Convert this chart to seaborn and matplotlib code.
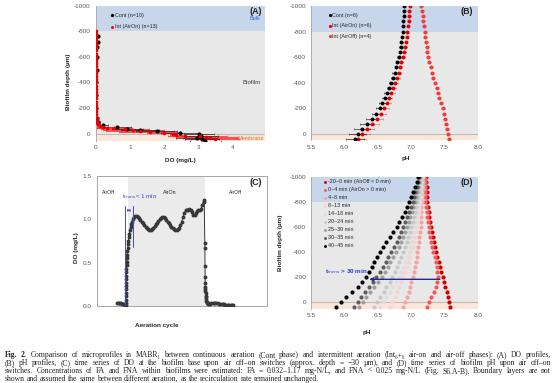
import numpy as np
import pandas as pd
import matplotlib
matplotlib.use('Agg')
import matplotlib.pyplot as plt
import seaborn as sns

# ---- data ----
# (A) DO profiles
a_cont_depth = [-760, -720, -680, -600, -500, -400, -300, -200, -120, -90, -65, -52, -39, -26, -18, -8, 5, 20, 34, 44, 55]
a_cont_do = [0.07, 0.07, 0.04, 0.03, 0.03, 0.02, 0.02, 0.02, 0.03, 0.08, 0.22, 0.63, 0.92, 1.30, 1.78, 2.46, 3.02, 3.08, 2.95, 3.12, 3.20]
a_cont_err = [0.01, 0.01, 0.01, 0.01, 0.01, 0.01, 0.01, 0.01, 0.02, 0.05, 0.15, 0.40, 0.45, 0.55, 0.60, 0.55, 0.45, 0.50, 0.60, 0.50, 0.45]

a_int_depth = [-800, -775, -750, -725, -700, -675, -650, -625, -600, -575, -550, -525, -500, -475, -450,
               -425, -400, -375, -350, -325, -300, -275, -250, -225, -200, -175, -150, -125, -100,
               -85, -72, -62, -55, -47, -40, -33, -26, -20, -13, -7, 0, 8, 15, 22, 30, 38, 45]
a_int_do = [0.02, 0.02, 0.02, 0.02, 0.02, 0.02, 0.02, 0.02, 0.02, 0.02, 0.02, 0.02, 0.02, 0.02, 0.02,
            0.02, 0.02, 0.02, 0.02, 0.02, 0.02, 0.02, 0.02, 0.02, 0.02, 0.02, 0.02, 0.03, 0.03,
            0.04, 0.08, 0.12, 0.20, 0.32, 0.55, 0.86, 1.10, 1.29, 1.58, 2.00, 2.27, 2.36, 2.60, 3.05, 3.24, 3.35, 3.48]
a_int_err = [0.01, 0.01, 0.01, 0.01, 0.01, 0.01, 0.01, 0.01, 0.01, 0.01, 0.01, 0.01, 0.01, 0.01, 0.01,
             0.01, 0.01, 0.01, 0.01, 0.01, 0.01, 0.01, 0.01, 0.01, 0.01, 0.01, 0.01, 0.02, 0.02,
             0.03, 0.05, 0.08, 0.15, 0.30, 0.50, 0.70, 0.90, 1.00, 0.90, 0.50, 0.10, 0.20, 0.50, 0.80, 0.90, 0.80, 0.70]

# (B) and (D) pH profiles share the depth grid
prof_depth = [-1000, -960, -920, -880, -840, -800, -760, -720, -680, -640, -600, -560, -520, -480,
              -440, -400, -360, -320, -280, -240, -200, -160, -120, -80, -40, 0, 40]

b_cont_ph = [6.89, 6.89, 6.89, 6.88, 6.88, 6.87, 6.86, 6.85, 6.84, 6.83, 6.81, 6.79, 6.77, 6.75,
             6.73, 6.70, 6.67, 6.64, 6.61, 6.57, 6.53, 6.48, 6.41, 6.34, 6.27, 6.20, 6.16]
b_cont_err = [0.01, 0.01, 0.01, 0.01, 0.01, 0.01, 0.01, 0.02, 0.02, 0.02, 0.02, 0.02, 0.02, 0.03,
              0.03, 0.03, 0.03, 0.04, 0.04, 0.05, 0.06, 0.07, 0.08, 0.10, 0.12, 0.13, 0.13]
b_on_ph = [6.98, 6.97, 6.97, 6.96, 6.95, 6.94, 6.93, 6.92, 6.91, 6.89, 6.87, 6.85, 6.83, 6.81,
           6.79, 6.76, 6.73, 6.70, 6.67, 6.64, 6.60, 6.55, 6.49, 6.42, 6.34, 6.26, 6.20]
b_on_err = [0.02, 0.02, 0.02, 0.02, 0.02, 0.02, 0.02, 0.02, 0.03, 0.03, 0.03, 0.03, 0.03, 0.04,
            0.04, 0.04, 0.04, 0.05, 0.05, 0.06, 0.07, 0.08, 0.09, 0.10, 0.11, 0.12, 0.12]
b_off_ph = [7.15, 7.16, 7.17, 7.18, 7.19, 7.20, 7.21, 7.22, 7.23, 7.24, 7.25, 7.27, 7.29, 7.31,
            7.33, 7.36, 7.38, 7.40, 7.42, 7.45, 7.47, 7.49, 7.51, 7.52, 7.54, 7.55, 7.56]
b_off_err = [0.03, 0.03, 0.03, 0.03, 0.03, 0.03, 0.03, 0.03, 0.03, 0.03, 0.03, 0.03, 0.03, 0.03,
             0.03, 0.03, 0.03, 0.03, 0.03, 0.03, 0.03, 0.03, 0.03, 0.03, 0.03, 0.03, 0.03]
b_labels = ['Cont (n=6)', 'Int (AirOn) (n=6)', 'Int (AirOff) (n=4)']

# (C) DO at biofilm base, time in minutes
c_time = [1.55, 1.62, 1.70, 1.78, 1.86, 1.94, 2.02, 2.10, 2.18, 2.24,
          2.26, 2.26, 2.27, 2.27, 2.28, 2.28, 2.29, 2.29, 2.30, 2.30, 2.31, 2.32, 2.33, 2.34, 2.36,
          2.38, 2.40, 2.43, 2.46, 2.50, 2.54, 2.58, 2.63, 2.68, 2.74, 2.80,
          2.9, 3.0, 3.1, 3.2, 3.3, 3.4, 3.5, 3.6, 3.7, 3.8, 3.9, 4.0, 4.1, 4.2, 4.3, 4.4, 4.5, 4.6,
          4.7, 4.8, 4.9, 5.0, 5.1, 5.2, 5.3, 5.4, 5.5, 5.6, 5.7, 5.8, 5.9, 6.0, 6.1, 6.2, 6.3, 6.4,
          6.5, 6.6, 6.7, 6.8, 6.9, 7.0, 7.1, 7.2, 7.3, 7.4, 7.5, 7.6, 7.7, 7.8, 7.9, 8.0, 8.1, 8.2,
          8.3, 8.35,
          8.40, 8.40, 8.41, 8.41, 8.42, 8.42, 8.43, 8.44, 8.45, 8.46, 8.48, 8.50, 8.52, 8.55, 8.58,
          8.62, 8.66, 8.70,
          8.8, 8.9, 9.0, 9.1, 9.2, 9.3, 9.4, 9.5, 9.6, 9.7, 9.8, 9.9, 10.0, 10.1, 10.2, 10.3, 10.4,
          10.5, 10.6]
c_do = [0.04, 0.04, 0.035, 0.03, 0.03, 0.025, 0.02, 0.02, 0.015, 0.01,
        0.03, 0.07, 0.11, 0.15, 0.19, 0.23, 0.27, 0.31, 0.35, 0.39, 0.43, 0.47, 0.51, 0.55, 0.59,
        0.63, 0.67, 0.71, 0.75, 0.79, 0.83, 0.87, 0.91, 0.94, 0.97, 1.00,
        1.02, 1.03, 1.03, 1.02, 1.01, 0.99, 0.97, 0.95, 0.93, 0.91, 0.90, 0.89, 0.88, 0.88, 0.89,
        0.90, 0.92, 0.94, 0.96, 0.98, 1.00, 1.01, 1.02, 1.02, 1.01, 0.99, 0.97, 0.95, 0.93, 0.91,
        0.90, 0.89, 0.88, 0.88, 0.89, 0.90, 0.93, 0.97, 1.02, 1.07, 1.10, 1.10, 1.11, 1.12, 1.10,
        1.08, 1.05, 1.05, 1.07, 1.09, 1.10, 1.10, 1.12, 1.16, 1.20, 1.22,
        0.72, 0.67, 0.46, 0.33, 0.27, 0.22, 0.20, 0.17, 0.15, 0.12, 0.10, 0.08, 0.06, 0.05, 0.04,
        0.03, 0.02, 0.02,
        0.02, 0.03, 0.04, 0.04, 0.03, 0.03, 0.03, 0.02, 0.02, 0.02, 0.02, 0.02, 0.015, 0.015, 0.01,
        0.01, 0.01, 0.01, 0.01]
c_air_on, c_air_off, c_xmax = 2.40, 8.40, 13.2
c_trans_start, c_trans_end = 2.18, 2.80

# (D) pH time series
d_labels = ['-20~0 min (AirOff < 0 min)', '0~4 min (AirOn > 0 min)', '4~8 min', '8~13 min',
            '14~18 min', '20~24 min', '25~30 min', '30~35 min', '40~45 min']
d_colors = ['#d00000', '#f05a5a', '#f4a3a3', '#f9d3d3', '#dedede', '#c8c8c8', '#a0a0a0', '#5e5e5e', '#000000']
d_ph = [
    [7.22, 7.22, 7.23, 7.23, 7.24, 7.24, 7.25, 7.26, 7.27, 7.28, 7.30, 7.31, 7.32, 7.34,
     7.35, 7.37, 7.39, 7.41, 7.43, 7.45, 7.47, 7.49, 7.51, 7.53, 7.55, 7.56, 7.58],
    [7.20, 7.20, 7.20, 7.21, 7.21, 7.21, 7.22, 7.23, 7.24, 7.25, 7.26, 7.27, 7.28, 7.29,
     7.31, 7.33, 7.35, 7.37, 7.38, 7.39, 7.40, 7.39, 7.37, 7.34, 7.30, 7.26, 7.23],
    [7.17, 7.17, 7.17, 7.16, 7.16, 7.16, 7.15, 7.15, 7.14, 7.14, 7.14, 7.13, 7.12, 7.11,
     7.10, 7.09, 7.08, 7.07, 7.05, 7.04, 7.02, 7.00, 6.98, 6.96, 6.93, 6.91, 6.88],
    [7.16, 7.15, 7.15, 7.14, 7.14, 7.13, 7.12, 7.11, 7.10, 7.09, 7.08, 7.07, 7.05, 7.04,
     7.02, 7.00, 6.98, 6.96, 6.93, 6.91, 6.88, 6.85, 6.82, 6.79, 6.75, 6.72, 6.69],
    [7.15, 7.14, 7.14, 7.13, 7.12, 7.11, 7.10, 7.09, 7.07, 7.06, 7.05, 7.03, 7.01, 7.00,
     6.98, 6.96, 6.93, 6.91, 6.88, 6.85, 6.82, 6.77, 6.72, 6.68, 6.63, 6.58, 6.54],
    [7.14, 7.13, 7.12, 7.11, 7.10, 7.09, 7.07, 7.05, 7.04, 7.02, 7.00, 6.98, 6.95, 6.93,
     6.90, 6.88, 6.85, 6.82, 6.79, 6.76, 6.72, 6.68, 6.63, 6.59, 6.54, 6.49, 6.45],
    [7.13, 7.12, 7.10, 7.08, 7.07, 7.05, 7.03, 7.01, 6.98, 6.96, 6.93, 6.90, 6.87, 6.84,
     6.81, 6.77, 6.73, 6.69, 6.65, 6.61, 6.57, 6.51, 6.45, 6.39, 6.33, 6.28, 6.22],
    [7.12, 7.10, 7.08, 7.06, 7.04, 7.02, 7.00, 6.97, 6.94, 6.91, 6.88, 6.85, 6.81, 6.78,
     6.74, 6.70, 6.66, 6.62, 6.58, 6.53, 6.48, 6.43, 6.37, 6.31, 6.25, 6.20, 6.14],
    [7.10, 7.08, 7.06, 7.03, 7.00, 6.97, 6.94, 6.90, 6.86, 6.82, 6.78, 6.73, 6.68, 6.63,
     6.58, 6.53, 6.49, 6.45, 6.41, 6.37, 6.33, 6.27, 6.20, 6.12, 6.03, 5.95, 5.88],
]
d_arrow_depth, d_arrow_from, d_arrow_to = -183, 7.47, 6.33

caption = [
    "Fig. 2. Comparison of microprofiles in MABR\u2081 between continuous aeration (Cont phase) and intermittent aeration (Int\u2086\u208a\u2086 air-on and air-off phases): (A) DO profiles,",
    "(B) pH profiles, (C) time series of DO at the biofilm base upon air off\u2013on switches (approx. depth = \u221230 \u00b5m), and (D) time series of biofilm pH upon air off\u2013on",
    "switches. Concentrations of FA and FNA within biofilms were estimated: FA = 0.032\u20131.17 mg-N/L, and FNA < 0.025 mg-N/L (Fig. S6.A-B). Boundary layers are not",
    "shown and assumed the same between different aeration, as the recirculation rate remained unchanged.",
]

# ---- styling ----
sns.set_style('white')
plt.rcParams['font.family'] = ['Liberation Sans', 'DejaVu Sans']
plt.rcParams['axes.unicode_minus'] = False

BULK, BIOF, MEMB = '#c7d6eb', '#e8e8e8', '#fbe7da'
TICK = '#595959'

W, H = 554, 383
fig = plt.figure(figsize=(W / 100, H / 100), dpi=100)
axA = fig.add_axes([0.1727, 0.6311, 0.3056, 0.3540])
axB = fig.add_axes([0.5614, 0.6332, 0.3014, 0.3512])
axC = fig.add_axes([0.1745, 0.2010, 0.3069, 0.3405])
axD = fig.add_axes([0.5614, 0.1943, 0.3014, 0.3444])


def profile_frame(ax, bottom, zero_col='#bdbdbd'):
    ax.axhspan(-1000, -800, color=BULK, lw=0, zorder=0)
    ax.axhspan(-800, 0, color=BIOF, lw=0, zorder=0)
    ax.axhspan(0, bottom, color=MEMB, lw=0, zorder=0)
    ax.axhline(0, color=zero_col, lw=0.8, zorder=1)
    ax.set_ylim(bottom, -1000)
    ax.set_yticks(range(-1000, 1, 200))
    for s in ['top', 'right', 'bottom']:
        ax.spines[s].set_visible(False)
    ax.spines['left'].set_color('#a6a6a6')
    ax.spines['left'].set_linewidth(0.6)
    ax.tick_params(axis='y', labelsize=4.6, colors=TICK, length=2, width=0.5, pad=1.5)
    ax.tick_params(axis='x', labelsize=4.6, colors=TICK, length=0, pad=3)
    ax.set_xlabel('')
    ax.set_ylabel('')


# (A)
profile_frame(axA, 60)
axA.errorbar(a_int_do, a_int_depth, xerr=a_int_err, fmt='none', ecolor='#ff3030', elinewidth=0.6, capsize=1, capthick=0.4, zorder=2)
axA.errorbar(a_cont_do, a_cont_depth, xerr=a_cont_err, fmt='none', ecolor='#222222', elinewidth=0.5, capsize=1, capthick=0.4, zorder=3)
sns.scatterplot(x=a_cont_do, y=a_cont_depth, ax=axA, color='black', s=9, linewidth=0, zorder=4, label='Cont (n=10)')
sns.scatterplot(x=a_int_do, y=a_int_depth, ax=axA, color='#ee0000', s=7, linewidth=0, zorder=5, label='Int (AirOn) (n=13)')
axA.set_ylim(60, -1000)
axA.set_xlim(0, 4.95)
axA.set_xticks([0, 1, 2, 3, 4])
axA.legend(loc='upper left', bbox_to_anchor=(0.07, 0.965), frameon=False, fontsize=3.9,
           handletextpad=0.1, labelspacing=1.2, borderaxespad=0, handlelength=0.8, markerscale=0.8)
axA.text(4.86, -955, '(A)', ha='right', va='center', fontsize=6.4, fontweight='bold', color='#222222')
axA.text(4.82, -902, 'Bulk', ha='right', va='center', fontsize=4, color='#2e6fd8')
axA.text(4.82, -400, 'Biofilm', ha='right', va='center', fontsize=4.4, color='#404040')
axA.text(4.93, 42, 'Membrane', ha='right', va='center', fontsize=4, color='#e07030', zorder=1)
axA.set_ylabel('Biofilm depth (\u00b5m)', fontsize=4.6, fontweight='bold')
axA.yaxis.set_label_coords(-0.148, 0.44)
axA.set_xlabel('DO (mg/L)', fontsize=4.6, fontweight='bold')
axA.xaxis.set_label_coords(0.498, -0.123)

# (B)
profile_frame(axB, 50)
axB.errorbar(b_off_ph, prof_depth, xerr=b_off_err, fmt='none', ecolor='#f49a9a', elinewidth=0.6, capsize=1, capthick=0.4, zorder=2)
axB.errorbar(b_on_ph, prof_depth, xerr=b_on_err, fmt='none', ecolor='#f07070', elinewidth=0.5, capsize=1, capthick=0.4, zorder=2)
axB.errorbar(b_cont_ph, prof_depth, xerr=b_cont_err, fmt='none', ecolor='#333333', elinewidth=0.5, capsize=1, capthick=0.4, zorder=2)
sns.scatterplot(x=b_cont_ph, y=prof_depth, ax=axB, color='black', s=8, linewidth=0, zorder=5, label=b_labels[0])
sns.scatterplot(x=b_on_ph, y=prof_depth, ax=axB, color='#e80000', s=8, linewidth=0, zorder=4, label=b_labels[1])
sns.scatterplot(x=b_off_ph, y=prof_depth, ax=axB, color='#f03c3c', s=8, linewidth=0, zorder=3, label=b_labels[2])
axB.set_ylim(50, -1000)
axB.set_xlim(5.5, 8.0)
axB.set_xticks([5.5, 6.0, 6.5, 7.0, 7.5, 8.0])
axB.set_xticklabels(['5.5', '6.0', '6.5', '7.0', '7.5', '8.0'])
axB.legend(loc='upper left', bbox_to_anchor=(0.085, 0.965), frameon=False, fontsize=3.9,
           handletextpad=0.1, labelspacing=1.0, borderaxespad=0, handlelength=0.8, markerscale=0.8)
axB.text(7.93, -955, '(B)', ha='right', va='center', fontsize=6.4, fontweight='bold', color='#222222')
axB.set_xlabel('pH', fontsize=4.6, fontweight='bold')
axB.xaxis.set_label_coords(0.569, -0.115)

# (C)
axC.axvspan(c_air_on, c_air_off, color='#ebebeb', lw=0, zorder=0)
sns.lineplot(x=c_time, y=c_do, ax=axC, estimator=None, sort=False, color='#383838', lw=0.7,
             marker='o', markersize=2.8, markeredgewidth=0, zorder=3)
axC.set_xlim(0, c_xmax)
axC.set_ylim(0, 1.5)
axC.set_yticks([0, 0.5, 1.0, 1.5])
axC.set_yticklabels(['0.0', '0.5', '1.0', '1.5'])
axC.set_xticks([])
for s in axC.spines.values():
    s.set_color('#a6a6a6')
    s.set_linewidth(0.7)
axC.tick_params(axis='y', labelsize=4.6, colors=TICK, length=2, width=0.5, pad=1.5)
blue = '#3a4ed0'
axC.plot([c_trans_start, c_trans_start], [0, 1.15], color=blue, lw=0.7, zorder=4)
axC.plot([c_trans_end, c_trans_end], [0.68, 1.15], color=blue, lw=0.7, zorder=4)
axC.annotate('', xy=(c_trans_end, 1.10), xytext=(c_trans_start, 1.10),
             arrowprops=dict(arrowstyle='<|-|>', color=blue, lw=0.6, mutation_scale=3), zorder=4)
axC.text(1.94, 1.26, 't$_{trans}$< 1 min', color=blue, fontsize=4.5, ha='left', va='center')
axC.text(0.38, 1.30, 'AirOff', fontsize=3.6, ha='left', va='center', color='#222222')
axC.text(5.69, 1.30, 'AirOn', fontsize=3.8, ha='center', va='center', color='#222222')
axC.text(10.8, 1.30, 'AirOff', fontsize=3.6, ha='center', va='center', color='#222222')
axC.text(12.85, 1.42, '(C)', ha='right', va='center', fontsize=6.4, fontweight='bold', color='#222222')
axC.set_ylabel('DO (mg/L)', fontsize=4.6, fontweight='bold')
axC.yaxis.set_label_coords(-0.102, 0.445)
axC.set_xlabel('Aeration cycle', fontsize=4.6, fontweight='bold')
axC.xaxis.set_label_coords(0.355, -0.13)

# (D)
profile_frame(axD, 50, zero_col='#cdb9a6')
for ph, col, lab in zip(d_ph, d_colors, d_labels):
    sns.scatterplot(x=ph, y=prof_depth, ax=axD, color=col, s=9, linewidth=0, zorder=3, label=lab)
axD.set_ylim(50, -1000)
axD.set_xlim(5.5, 8.0)
axD.set_xticks([5.5, 6.0, 6.5, 7.0, 7.5, 8.0])
axD.set_xticklabels(['5.5', '6.0', '6.5', '7.0', '7.5', '8.0'])
axD.legend(loc='upper left', bbox_to_anchor=(0.06, 0.998), frameon=False, fontsize=3.9,
           handletextpad=0.1, labelspacing=0.55, borderaxespad=0, handlelength=0.8, markerscale=0.7)
axD.annotate('', xy=(d_arrow_to, d_arrow_depth), xytext=(d_arrow_from, d_arrow_depth),
             arrowprops=dict(arrowstyle='-|>', color='#1c2a9c', lw=1.0, mutation_scale=5), zorder=6)
axD.text(5.71, -244, 't$_{trans}$ > 30 min', color='#2a3fd0', fontsize=4.6, fontweight='bold', ha='left', va='center')
axD.text(7.93, -955, '(D)', ha='right', va='center', fontsize=6.4, fontweight='bold', color='#222222')
axD.set_ylabel('Biofilm depth (\u00b5m)', fontsize=4.6, fontweight='bold')
axD.yaxis.set_label_coords(-0.168, 0.5)
axD.set_xlabel('pH', fontsize=4.6, fontweight='bold')
axD.xaxis.set_label_coords(0.335, -0.162)

# ---- justified caption ----
cap_font = dict(family=['Liberation Serif', 'DejaVu Serif'], fontsize=5.5, color='#231f20')
r = fig.canvas.get_renderer()
x0, x1 = 5, 551
for i, line in enumerate(caption):
    words = line.split(' ')
    yfig = 1 - (355 + 8 * i) / H
    objs = []
    for j, w in enumerate(words):
        bold = (i == 0 and j < 2)
        objs.append(fig.text(0, yfig, w, va='center', ha='left',
                             fontweight='bold' if bold else 'normal', **cap_font))
    widths = [t.get_window_extent(r).width for t in objs]
    space = 0.25 * cap_font['fontsize'] * 100 / 72
    if i < len(caption) - 1:
        gap = max((x1 - x0 - sum(widths)) / (len(words) - 1), space)
    else:
        gap = space
    x = x0
    for t, w in zip(objs, widths):
        t.set_x(x / W)
        x += w + gap

fig.savefig('out.png', dpi=100)
